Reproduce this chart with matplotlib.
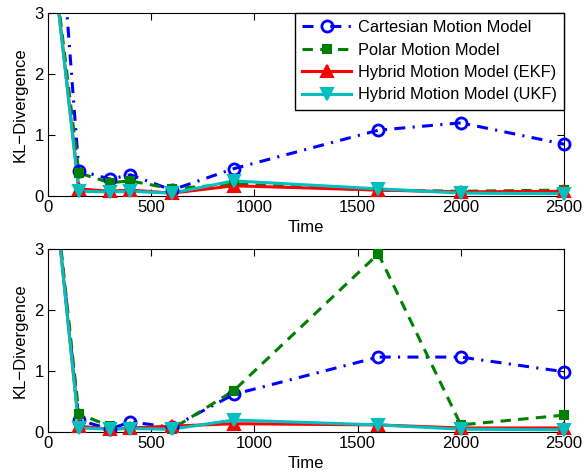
import numpy as np
import matplotlib
matplotlib.use('Agg')
import matplotlib.pyplot as plt
from matplotlib.lines import Line2D

plt.rcParams['font.family'] = ['Liberation Sans', 'DejaVu Sans']

time = [0, 150, 300, 400, 600, 900, 1600, 2000, 2500]

# top panel
cart_top = [7.1, 0.42, 0.28, 0.35, 0.10, 0.45, 1.08, 1.20, 0.85]
polar_top = [4.6, 0.38, 0.22, 0.25, 0.12, 0.20, 0.10, 0.08, 0.10]
ekf_top = [4.6, 0.12, 0.08, 0.10, 0.05, 0.17, 0.10, 0.07, 0.08]
ukf_top = [4.6, 0.08, 0.07, 0.08, 0.05, 0.25, 0.12, 0.05, 0.04]

# bottom panel
cart_bot = [5.0, 0.20, 0.05, 0.17, 0.08, 0.62, 1.23, 1.23, 0.99]
polar_bot = [5.0, 0.30, 0.10, 0.08, 0.05, 0.68, 2.92, 0.12, 0.28]
ekf_bot = [5.0, 0.10, 0.05, 0.07, 0.10, 0.14, 0.12, 0.07, 0.07]
ukf_bot = [5.0, 0.07, 0.05, 0.06, 0.05, 0.20, 0.12, 0.05, 0.04]

labels = ['Cartesian Motion Model', 'Polar Motion Model',
          'Hybrid Motion Model (EKF)', 'Hybrid Motion Model (UKF)']

LW = 2.2
styles = [
    dict(color='#0000ff', ls=(0, (3.6, 2.4, 0.7, 2.4)), marker='o', ms=8,
         mfc='none', mew=2),
    dict(color='#008000', ls=(0, (3.4, 2.4)), marker='s', ms=6,
         mfc='#008000', mec='#008000'),
    dict(color='#ff0000', ls='-', marker='^', ms=8, mfc='#ff0000'),
    dict(color='#00bfbf', ls='-', marker='v', ms=8, mfc='#00bfbf'),
]


def draw(ax, series):
    for ys, st in zip(series, styles):
        st_line = {k: v for k, v in st.items()
                   if k not in ('marker', 'ms', 'mfc', 'mec', 'mew')}
        ax.plot(time, ys, lw=LW, **st_line)
        # markers drawn unclipped, like MATLAB
        ax.plot(time[1:], ys[1:], ls='none', marker=st['marker'],
                ms=st['ms'], mfc=st['mfc'], mec=st.get('mec', st['color']),
                mew=st.get('mew', 1.5), clip_on=False, zorder=3)
    ax.set_xlim(0, 2500)
    ax.set_ylim(0, 3)
    ax.set_xticks([0, 500, 1000, 1500, 2000, 2500])
    ax.set_yticks([0, 1, 2, 3])
    ax.tick_params(direction='in', top=True, right=True, labelsize=12,
                   length=5, pad=3)
    ax.set_xlabel('Time', fontsize=12, labelpad=3)
    ax.set_ylabel('KL\u2212Divergence', fontsize=12, labelpad=5)


fig = plt.figure(figsize=(5.84, 4.75), dpi=100)
ax1 = fig.add_axes([0.082, 0.587, 0.884, 0.386])
ax2 = fig.add_axes([0.082, 0.090, 0.884, 0.386])
draw(ax1, [cart_top, polar_top, ekf_top, ukf_top])
draw(ax2, [cart_bot, polar_bot, ekf_bot, ukf_bot])

handles = [Line2D([], [], lw=LW, mec=st.get('mec', st['color']),
                  mew=st.get('mew', 1.5), **{k: v for k, v in st.items()
                                             if k not in ('mec', 'mew')})
           for st in styles]
leg = ax1.legend(handles, labels, loc='upper right', fontsize=11.8,
                 fancybox=False, framealpha=1, edgecolor='black',
                 handlelength=3.0, borderaxespad=0.0, borderpad=0.45,
                 labelspacing=0.45, handletextpad=0.4)
leg.get_frame().set_linewidth(1)

fig.savefig('out.png', dpi=100)
